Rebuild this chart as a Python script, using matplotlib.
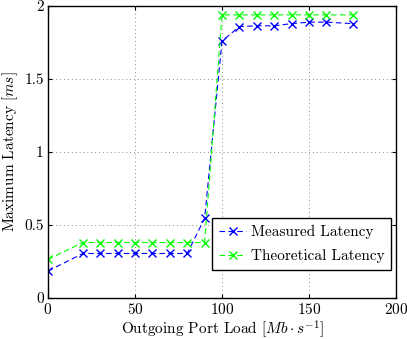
import matplotlib
matplotlib.use("Agg")
import matplotlib.pyplot as plt
from matplotlib.ticker import FuncFormatter

plt.rcParams["font.family"] = "serif"
plt.rcParams["font.serif"] = ["cmr10"]
plt.rcParams["mathtext.fontset"] = "cm"
plt.rcParams["axes.formatter.use_mathtext"] = True

# Data
load = [0, 20, 30, 40, 50, 60, 70, 80, 90, 100, 110, 120, 130, 140, 150, 160, 175]
measured = [0.185, 0.305, 0.305, 0.305, 0.305, 0.305, 0.305, 0.305, 0.546,
            1.76, 1.86, 1.865, 1.865, 1.88, 1.89, 1.89, 1.88]
theoretical = [0.265, 0.38, 0.38, 0.38, 0.38, 0.38, 0.38, 0.38, 0.38,
               1.94, 1.94, 1.94, 1.94, 1.94, 1.94, 1.94, 1.94]

fig = plt.figure(figsize=(4.07, 3.39), dpi=100)
ax = fig.add_axes([0.118, 0.121, 0.855, 0.861])

ax.plot(load, measured, "--x", color=(0, 0, 1), lw=0.8, ms=5.5, mew=1.0,
        dashes=(5, 3), label="Measured Latency")
ax.plot(load, theoretical, "--x", color=(0, 1, 0), lw=0.8, ms=5.5, mew=1.0,
        dashes=(5, 3), label="Theoretical Latency")

ax.set_xlim(0, 200)
ax.set_ylim(0, 2)
ax.set_xticks([0, 50, 100, 150, 200])
ax.set_yticks([0, 0.5, 1, 1.5, 2])
ax.yaxis.set_major_formatter(FuncFormatter(lambda v, p: "%g" % v))
ax.grid(True, linestyle=(0, (1, 3)), color="0.55", lw=0.7)
ax.tick_params(direction="in", top=True, right=True, labelsize=11, length=3, pad=3)
for s in ax.spines.values():
    s.set_linewidth(1.0)

ax.set_xlabel(r"Outgoing Port Load $[Mb \cdot s^{-1}]$", fontsize=11, labelpad=1)
ax.set_ylabel(r"Maximum Latency $[ms]$", fontsize=11, labelpad=3)

leg = ax.legend(loc="lower right", bbox_to_anchor=(0.987, 0.095), fancybox=False,
                edgecolor="black", framealpha=1, fontsize=11, handlelength=1.8,
                borderpad=0.45, labelspacing=0.65, handletextpad=0.3,
                borderaxespad=0)
leg.get_frame().set_linewidth(1.0)

fig.savefig("out.png", dpi=100)
